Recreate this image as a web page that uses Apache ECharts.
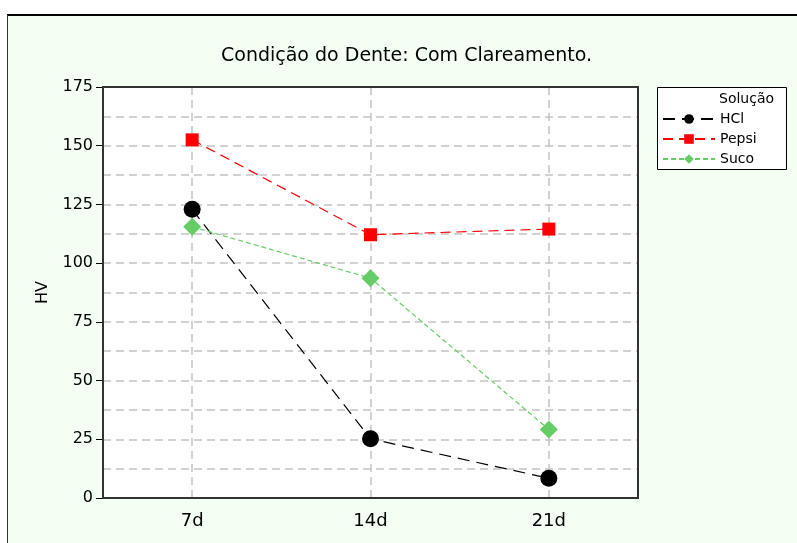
<!DOCTYPE html>
<html>
<head>
<meta charset="utf-8">
<script src="https://cdn.jsdelivr.net/npm/echarts@6/dist/echarts.min.js"></script>
<style>
  html, body { margin: 0; padding: 0; background: #fff; }
  #chart { width: 797px; height: 543px; }
</style>
</head>
<body>
<div id="chart"></div>
<script>
// dados
const dias = ['7d', '14d', '21d']
const hcl = [122.9, 25.2, 8.4]
const pepsi = [152.5, 112.1, 114.5]
const suco = [115.5, 93.6, 29.2]
const yTicks = [0, 175, 25]   // min, max, intervalo

const font = 'DejaVu Sans'
const gridColor = '#c4c4c4'
const dash = [8, 5]

// eixo auxiliar: meias faixas, para a grade vertical passar no centro de cada dia
const meiasFaixas = dias.flatMap(d => ['', d])

const Chart = echarts.init(document.getElementById('chart'))
Chart.setOption({
  animation: false,
  backgroundColor: '#fff',
  textStyle: { fontFamily: font },
  graphic: [
    // fundo verde claro e moldura
    { type: 'rect', z: -10, shape: { x: 7, y: 15, width: 800, height: 540 },
      style: { fill: '#f3fff3', stroke: null } },
    { type: 'line', z: -9, shape: { x1: 7, y1: 15, x2: 797, y2: 15 },
      style: { stroke: '#000', lineWidth: 2 } },
    { type: 'line', z: -9, shape: { x1: 7.5, y1: 15, x2: 7.5, y2: 543 },
      style: { stroke: '#333', lineWidth: 1 } },
    // borda da área do gráfico por cima da grade
    { type: 'rect', z: 2, shape: { x: 103, y: 87, width: 535, height: 411 },
      style: { fill: null, stroke: '#333', lineWidth: 2 } },
    // caixa da legenda
    { type: 'rect', z: 0, shape: { x: 657.5, y: 87.5, width: 129, height: 82 },
      style: { fill: '#fff', stroke: '#000', lineWidth: 1 } },
    { type: 'text', z: 5, left: 719, top: 92,
      style: { text: 'Solução', font: '14px "DejaVu Sans"', fill: '#000' } }
  ],
  title: {
    text: 'Condição do Dente: Com Clareamento.',
    left: 221, top: 47,
    padding: 0,
    textStyle: { fontFamily: font, fontSize: 19, fontWeight: 'normal', color: '#000' }
  },
  legend: {
    left: 662, top: 112,
    padding: 0,
    orient: 'vertical',
    itemWidth: 52, itemHeight: 12, itemGap: 6,
    z: 5,
    textStyle: { fontFamily: font, fontSize: 14, lineHeight: 14, color: '#000' },
    data: ['HCl', 'Pepsi', 'Suco']
  },
  grid: {
    left: 103, top: 87, right: 159, bottom: 45,
    show: true, backgroundColor: '#fff', borderWidth: 0
  },
  xAxis: [
    {
      type: 'category',
      data: dias,
      boundaryGap: true,
      axisLine: { lineStyle: { color: '#333', width: 2 } },
      axisTick: { alignWithLabel: true, length: 3, lineStyle: { color: '#000' } },
      axisLabel: { fontSize: 18, color: '#000', margin: 14, fontFamily: font },
      splitLine: { show: false }
    },
    {
      type: 'category',
      data: meiasFaixas,
      boundaryGap: true,
      position: 'bottom',
      axisLine: { show: false },
      axisTick: { show: false },
      axisLabel: { show: false },
      splitLine: {
        show: true,
        interval: (i) => i % 2 === 1,
        lineStyle: { color: gridColor, type: dash, width: 1.5 }
      }
    }
  ],
  yAxis: {
    type: 'value',
    min: yTicks[0], max: yTicks[1], interval: yTicks[2],
    name: 'HV',
    nameLocation: 'middle',
    nameGap: 52,
    nameTextStyle: { fontSize: 16, color: '#000', fontFamily: font },
    axisLine: { show: true, lineStyle: { color: '#000', width: 2 } },
    axisTick: { show: true, length: 7, lineStyle: { color: '#000' } },
    axisLabel: { fontSize: 16, color: '#000', margin: 10, fontFamily: font },
    minorTick: { show: false, splitNumber: 2 },
    splitLine: { show: true, showMinLine: false, showMaxLine: false,
      lineStyle: { color: gridColor, type: dash, width: 1.5 } },
    minorSplitLine: { show: true, lineStyle: { color: gridColor, type: dash, width: 1.5 } }
  },
  series: [
    {
      name: 'HCl',
      type: 'line',
      data: hcl,
      z: 3,
      symbol: 'circle', symbolSize: 17,
      itemStyle: { color: '#000' },
      lineStyle: { color: '#000', width: 1.2, type: [12, 7] }
    },
    {
      name: 'Pepsi',
      type: 'line',
      data: pepsi,
      z: 3,
      symbol: 'rect', symbolSize: 13,
      itemStyle: { color: '#ff0000' },
      lineStyle: { color: '#ff0000', width: 1.2, type: [10, 6] }
    },
    {
      name: 'Suco',
      type: 'line',
      data: suco,
      z: 3,
      symbol: 'diamond', symbolSize: 18,
      itemStyle: { color: '#66cc66' },
      lineStyle: { color: '#66cc66', width: 1.2, type: [5, 3] }
    }
  ]
})
</script>
</body>
</html>
